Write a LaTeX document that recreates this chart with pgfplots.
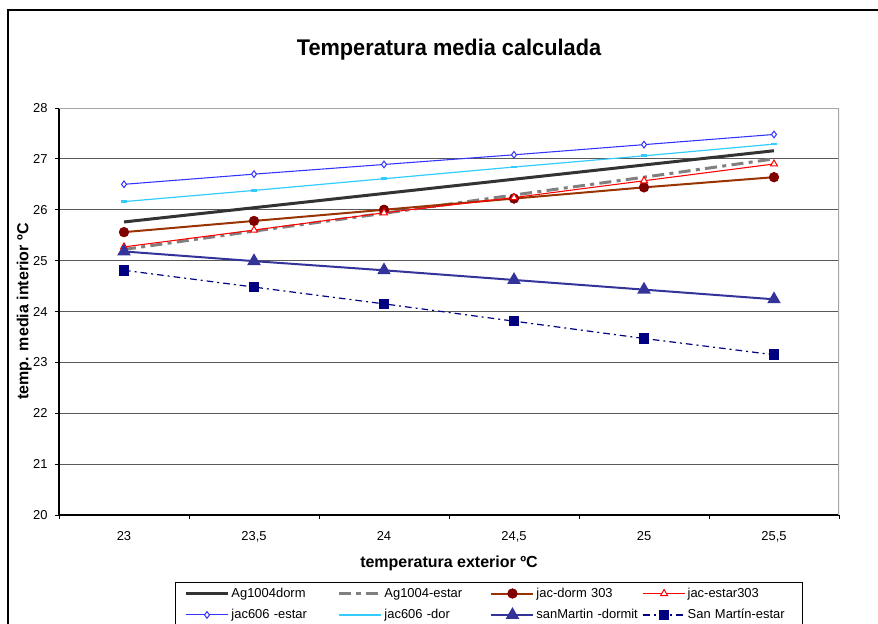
\documentclass[border=0pt]{standalone}
\usepackage{fontspec}
\setmainfont{Liberation Sans}
\usepackage{graphicx}
\usepackage{pgfplots}
\pgfplotsset{compat=1.18}

\definecolor{agdorm}{HTML}{333333}
\definecolor{agestar}{HTML}{808080}
\definecolor{jdline}{HTML}{993300}
\definecolor{jdmark}{HTML}{800000}
\definecolor{jered}{HTML}{FF0000}
\definecolor{jblue}{HTML}{3333FF}
\definecolor{jcyan}{HTML}{33CCFF}
\definecolor{smdorm}{HTML}{333399}
\definecolor{smestar}{HTML}{000080}

\begin{document}
\begin{tikzpicture}
\useasboundingbox (0,0) rectangle (658.5pt,-468pt);
% chart frame
\draw[line width=1pt] (6pt,-600pt) -- (6pt,-7.5pt) -- (700pt,-7.5pt);
\node[font=\bfseries\fontsize{17}{20}\selectfont, anchor=base] at (336.75pt,-42pt)
  {\scalebox{0.96}[1]{Temperatura media calculada}};
\begin{axis}[
  at={(44.25pt,-386.25pt)}, anchor=south west,
  scale only axis, width=585pt, height=305.25pt,
  xmin=-0.5, xmax=5.5, ymin=20, ymax=28,
  axis x line=bottom, axis y line=left,
  axis line style={-, black, line width=0.9pt},
  xtick={0,...,5}, xticklabels={23,{23,5},24,{24,5},25,{25,5}},
  major x tick style={draw=none},
  minor xtick={-0.5,0.5,...,5.5},
  minor x tick style={black, line width=0.75pt},
  ytick={20,...,28},
  tick align=outside, major tick length=3pt, minor tick length=3pt,
  y tick style={black, line width=0.75pt},
  ymajorgrids, major grid style={black!65, line width=0.75pt},
  /pgf/number format/assume math mode=true,
  tick label style={font=\fontsize{9.7}{11}\selectfont},
  yticklabel style={xshift=-2pt},
  xticklabel style={yshift=-6pt},
  xlabel={temperatura exterior ºC}, ylabel={temp. media interior ºC},
  every axis x label/.style={at={(axis description cs:0.5,-0.1179)}, anchor=center,
    font=\bfseries\fontsize{12}{14}\selectfont},
  every axis y label/.style={at={(axis description cs:-0.0445,0.5)}, anchor=center,
    rotate=90, font=\bfseries\fontsize{12}{14}\selectfont},
  legend columns=4,
  legend cell align=left,
  legend style={at={(axis description cs:0.1487,-0.1646)}, anchor=north west,
    draw=black, line width=0.75pt, inner xsep=6.75pt, inner ysep=2pt,
    row sep=3.5pt,
    font=\fontsize{9.7}{11}\selectfont,
    nodes={text width=78pt, inner xsep=1.5pt}},
  legend image code/.code={\draw[mark repeat=2,mark phase=2,#1]
    plot coordinates {(0pt,0pt) (15.75pt,0pt) (31.5pt,0pt)};},
]
% plot area border (top and right)
\draw[black!35, line width=0.9pt] (rel axis cs:0,1) -- (rel axis cs:1,1) -- (rel axis cs:1,0);

\addplot[agdorm, line width=2.25pt, no markers]
  coordinates {(0,25.76) (1,26.04) (2,26.32) (3,26.60) (4,26.88) (5,27.16)};
\addlegendentry{Ag1004dorm}

\addplot[agestar, line width=2.25pt, dash pattern=on 9pt off 4pt on 3pt off 4pt, no markers]
  coordinates {(0,25.22) (1,25.58) (2,25.93) (3,26.29) (4,26.64) (5,27.00)};
\addlegendentry{Ag1004-estar}

\addplot[jdline, line width=1.5pt, mark=*, mark size=3.6pt,
  mark options={fill=jdmark, draw=jdmark, line width=0.5pt, solid}]
  coordinates {(0,25.56) (1,25.78) (2,26.00) (3,26.22) (4,26.44) (5,26.64)};
\addlegendentry{jac-dorm 303}

\addplot[jered, line width=0.8pt, mark=triangle*, mark size=3pt,
  mark options={fill=white, solid, line width=0.75pt}]
  coordinates {(0,25.27) (1,25.60) (2,25.94) (3,26.24) (4,26.57) (5,26.90)};
\addlegendentry{jac-estar303}

\addplot[jblue, line width=0.8pt, mark=diamond*, mark size=2.5pt,
  mark options={fill=white, solid, line width=0.75pt}]
  coordinates {(0,26.50) (1,26.70) (2,26.89) (3,27.08) (4,27.28) (5,27.48)};
\addlegendentry{jac606 -estar}

\addplot[jcyan, line width=0.9pt, mark=-, mark size=2.4pt,
  mark options={line width=2pt, solid}]
  coordinates {(0,26.16) (1,26.38) (2,26.61) (3,26.84) (4,27.06) (5,27.29)};
\addlegendentry{jac606 -dor}

\addplot[smdorm, line width=1.5pt, mark=triangle*, mark size=4.4pt,
  mark options={fill=smdorm, solid}]
  coordinates {(0,25.18) (1,24.99) (2,24.81) (3,24.62) (4,24.43) (5,24.24)};
\addlegendentry{sanMartin -dormit}

\addplot[smestar, line width=0.9pt, dash pattern=on 5pt off 3pt on 1.5pt off 3pt,
  mark=square*, mark size=3.5pt, mark options={fill=smestar, solid}]
  coordinates {(0,24.81) (1,24.48) (2,24.15) (3,23.81) (4,23.47) (5,23.15)};
\addlegendentry{San Martín-estar}
\end{axis}
\end{tikzpicture}
\end{document}
